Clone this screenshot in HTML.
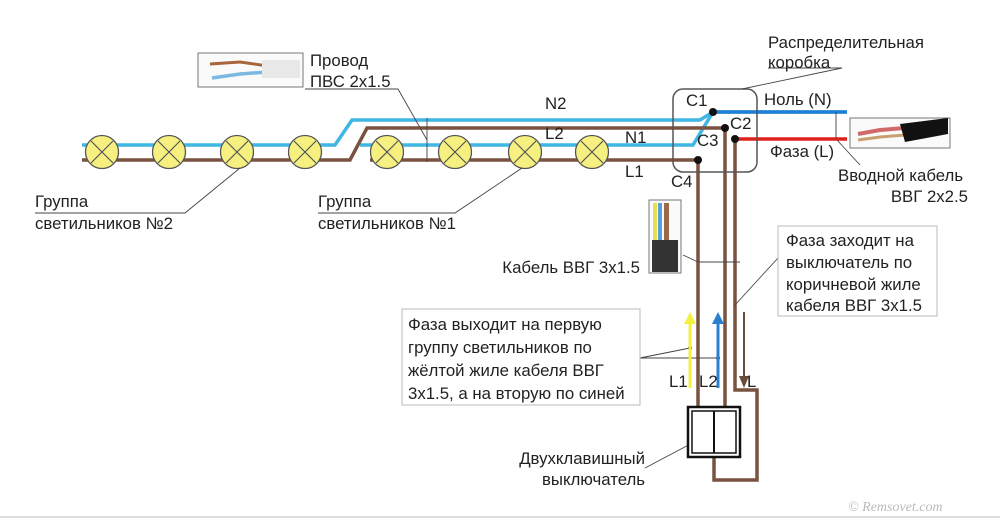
<!DOCTYPE html>
<html><head><meta charset="utf-8"><style>
html,body{margin:0;padding:0;background:#fff;}
svg{display:block;font-family:"Liberation Sans",sans-serif;}
text{font-size:16.8px;fill:#222;}
</style></head><body>
<svg width="1000" height="521" viewBox="0 0 1000 521" xmlns="http://www.w3.org/2000/svg">
<rect x="0" y="0" width="1000" height="521" fill="#fff"/>
<line x1="0" y1="517" x2="1000" y2="517" stroke="#ddd" stroke-width="2"/>
<g fill="none" stroke-width="3.5">
<polyline points="82,145 335,145 352,120 700,120 713,112 847,112" stroke="#3fb6e3"/>
<polyline points="360,145 693,145 713,112" stroke="#3fb6e3"/>
<polyline points="713,112 847,112" stroke="#1d7fd6"/>
<polyline points="82,160 350,160 367,128 725,128" stroke="#7a5240"/>
<polyline points="370,160 698,160" stroke="#7a5240"/>
<line x1="735" y1="139" x2="847" y2="139" stroke="#e0201c"/>
<polyline points="698,160 698,407" stroke="#7a5240"/>
<polyline points="725,128 725,407" stroke="#7a5240"/>
<polyline points="735,139 735,390 757,390 757,480 714,480 714,457" stroke="#7a5240"/>
</g>
<rect x="673" y="89" width="84" height="83" rx="10" fill="none" stroke="#555" stroke-width="1.5"/>
<g fill="#111"><circle cx="713" cy="112" r="4"/><circle cx="725" cy="128" r="4"/><circle cx="735" cy="139" r="4"/><circle cx="698" cy="160" r="4"/></g>
<text x="686" y="106">C1</text><text x="730" y="129">C2</text><text x="697" y="146">C3</text><text x="671" y="187">C4</text>
<g fill="#f5f080" stroke="#555" stroke-width="1.3">
<circle cx="102" cy="152" r="16.5"/><circle cx="169" cy="152" r="16.5"/><circle cx="237" cy="152" r="16.5"/><circle cx="305" cy="152" r="16.5"/>
<circle cx="387" cy="152" r="16.5"/><circle cx="455" cy="152" r="16.5"/><circle cx="525" cy="152" r="16.5"/><circle cx="592" cy="152" r="16.5"/>
</g>
<g stroke="#555" stroke-width="1.2">
<path d="M91,141 L113,163 M113,141 L91,163 M158,141 L180,163 M180,141 L158,163 M226,141 L248,163 M248,141 L226,163 M294,141 L316,163 M316,141 L294,163 M376,141 L398,163 M398,141 L376,163 M444,141 L466,163 M466,141 L444,163 M514,141 L536,163 M536,141 L514,163 M581,141 L603,163 M603,141 L581,163"/>
</g>
<text x="545" y="109">N2</text><text x="545" y="139">L2</text><text x="625" y="143">N1</text><text x="625" y="177">L1</text>
<text x="764" y="105">Ноль (N)</text><text x="770" y="157">Фаза (L)</text>
<g stroke="#444" stroke-width="0.9" fill="none">
<polyline points="305,89 398,89 427,140"/><line x1="427" y1="118" x2="427" y2="162"/>
<polyline points="35,213 185,213 240,168"/>
<polyline points="318,213 455,213 522,168"/>
<polyline points="768,68 842,68 742,89"/>
<line x1="836" y1="112" x2="836" y2="139"/>
<line x1="837" y1="140" x2="860" y2="165"/>
<line x1="683" y1="255" x2="698" y2="262"/><line x1="698" y1="262" x2="740" y2="262"/>
<polyline points="778,258 735,305"/>
<line x1="640" y1="358" x2="690" y2="348"/><line x1="640" y1="358" x2="718" y2="358"/>
<line x1="645" y1="468" x2="698" y2="440"/>
</g>
<circle cx="690" cy="348" r="2" fill="#444"/><circle cx="718" cy="358" r="2" fill="#444"/>
<text x="310" y="66">Провод</text><text x="310" y="87">ПВС 2x1.5</text>
<text x="35" y="207">Группа</text><text x="35" y="229">светильников №2</text>
<text x="318" y="207">Группа</text><text x="318" y="229">светильников №1</text>
<text x="768" y="48">Распределительная</text><text x="768" y="68">коробка</text>
<text x="838" y="181">Вводной кабель</text><text x="968" y="202" text-anchor="end">ВВГ 2x2.5</text>
<text x="640" y="273" text-anchor="end">Кабель ВВГ 3x1.5</text>
<rect x="778" y="226" width="159" height="90" fill="#fff" stroke="#bbb"/>
<text x="786" y="246">Фаза заходит на</text><text x="786" y="268">выключатель по</text><text x="786" y="290">коричневой жиле</text><text x="786" y="311">кабеля ВВГ 3x1.5</text>
<rect x="402" y="309" width="238" height="96" fill="#fff" stroke="#bbb"/>
<text x="408" y="330">Фаза выходит на первую</text><text x="408" y="353">группу светильников по</text><text x="408" y="376">жёлтой жиле кабеля ВВГ</text><text x="408" y="399">3x1.5, а на вторую по синей</text>
<line x1="690" y1="388" x2="690" y2="322" stroke="#f2f040" stroke-width="3"/><polygon points="684,324 690,312 696,324" fill="#f2f040"/>
<line x1="718" y1="388" x2="718" y2="322" stroke="#2a7fd0" stroke-width="3"/><polygon points="712,324 718,312 724,324" fill="#2a7fd0"/>
<line x1="744" y1="312" x2="744" y2="378" stroke="#6a4a3a" stroke-width="2"/><polygon points="739,376 744,388 749,376" fill="#6a4a3a"/>
<text x="669" y="387">L1</text><text x="699" y="387">L2</text><text x="747" y="387">L</text>
<rect x="688" y="407" width="52" height="50" fill="#fff" stroke="#111" stroke-width="2.5"/>
<rect x="692" y="411" width="44" height="42" fill="#fff" stroke="#111" stroke-width="1.5"/>
<line x1="714" y1="411" x2="714" y2="453" stroke="#111" stroke-width="2"/>
<text x="645" y="464" text-anchor="end">Двухклавишный</text><text x="645" y="485" text-anchor="end">выключатель</text>
<rect x="198" y="53" width="105" height="34" fill="#fafafa" stroke="#777"/>
<path d="M210,64 L240,62 L268,66" stroke="#a8643a" stroke-width="3" fill="none"/>
<path d="M212,78 L240,74 L268,72" stroke="#7ab8e0" stroke-width="3.5" fill="none"/>
<rect x="262" y="60" width="38" height="18" fill="#e8e8e8"/>
<rect x="850" y="118" width="100" height="30" fill="#fafafa" stroke="#777"/>
<path d="M858,134 L880,130 L905,128" stroke="#d06a6a" stroke-width="4" fill="none"/>
<path d="M858,140 L880,137 L905,135" stroke="#c8a070" stroke-width="3" fill="none"/>
<polygon points="900,124 948,118 948,134 905,142" fill="#111"/>
<rect x="649" y="200" width="32" height="73" fill="#fafafa" stroke="#777"/>
<rect x="653" y="203" width="4" height="40" fill="#e6e050"/><rect x="658" y="203" width="4" height="40" fill="#5aa0d8"/><rect x="664" y="203" width="5" height="40" fill="#9a6a4a"/>
<rect x="652" y="240" width="26" height="32" fill="#333"/>
<text x="848" y="511" style="font-size:14px;fill:#bbb;font-style:italic;font-family:'Liberation Serif',serif;">© Remsovet.com</text>
</svg>
</body></html>
